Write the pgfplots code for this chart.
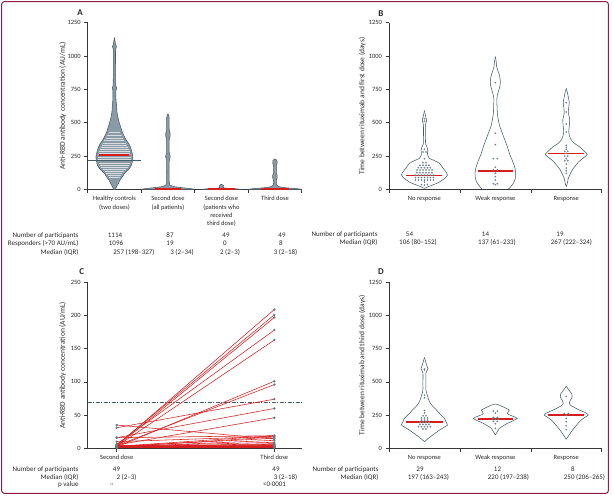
\documentclass[border=0pt]{standalone}
\usepackage{fontspec}
\setmainfont{Carlito}
\usepackage{pgfplots}
\pgfplotsset{compat=1.18}
\usepackage{pgfplotstable}

\definecolor{framecol}{RGB}{140,30,70}
\definecolor{axiscol}{RGB}{55,55,55}
\definecolor{textcol}{RGB}{40,40,40}
\definecolor{vline}{RGB}{70,92,104}
\definecolor{swarm}{RGB}{138,155,165}
\definecolor{medred}{RGB}{215,30,30}
\definecolor{dotcol}{RGB}{100,122,136}

\newcommand\tabfont{\fontsize{7}{8}\selectfont}

% ---------- filled violins (panel A): closed outline, offset xo (bp) and y ----------
\pgfplotstableread{
xo y
1 0
2 20
4 45
5.5 70
8 95
10 120
13.5 145
16.3 170
17.5 195
18 215
18.5 240
18 265
17 290
16 315
14.5 340
11.7 370
8.3 420
6.5 460
5 495
3.5 540
2.5 580
2.2 620
1.5 680
1.5 740
2.2 760
1.3 780
1.1 900
1.1 1050
2 1070
1 1090
0 1135
-1 1090
-2 1070
-1.1 1050
-1.1 900
-1.3 780
-2.2 760
-1.5 740
-1.5 680
-2.2 620
-2.5 580
-3.5 540
-5 495
-6.5 460
-8.3 420
-11.7 370
-14.5 340
-16 315
-17 290
-18 265
-18.5 240
-18 215
-17.5 195
-16.3 170
-13.5 145
-10 120
-8 95
-5.5 70
-4 45
-2 20
-1 0
}\fHealthy
\pgfplotstableread{
xo y
26 0
22 6
14 12
6 20
2.5 30
1.3 50
1.3 220
2.2 238
2.2 252
1.3 270
1.3 380
2.2 398
2.2 420
1.3 440
1.2 540
0 565
-1.2 540
-1.3 440
-2.2 420
-2.2 398
-1.3 380
-1.3 270
-2.2 252
-2.2 238
-1.3 220
-1.3 50
-2.5 30
-6 20
-14 12
-22 6
-26 0
}\fSecAll
\pgfplotstableread{
xo y
20 0
14 4
5 8
1.8 12
1.8 30
0 38
-1.8 30
-1.8 12
-5 8
-14 4
-20 0
}\fSecRec
\pgfplotstableread{
xo y
27 0
20 6
10 12
4 20
1.5 35
1.5 70
2.2 85
2.2 105
1.4 120
1.4 180
2.2 195
2 215
0 228
-2 215
-2.2 195
-1.4 180
-1.4 120
-2.2 105
-2.2 85
-1.5 70
-1.5 35
-4 20
-10 12
-20 6
-27 0
}\fThird
% rows of the healthy-control swarm: y and half-width w (bp)
\pgfplotstableread{
y w
90 5.5
106 6.8
121 8
134 9.6
151 11.8
164 13.2
181 14.6
197 15.3
228 16.2
244 16.4
271 15.8
286 15.2
302 14.6
318 13.8
334 12.4
349 11.4
366 10
386 8.5
404 7.3
431 5.8
}\tStripes

% ---------- open violins (panels B, D): y and half-width w (bp) ----------
\pgfplotstableread{
y w
7 0
20 4
32 8
50 14
70 18
90 21.5
107 23
125 22
145 20
170 17.5
195 15
215 10
232 5
250 3.5
268 3
290 3.4
318 2.5
340 1.2
380 1
480 1
505 1.8
522 2.2
538 1.5
555 1
590 0
}\tBno
\pgfplotstableread{
y w
0 13
20 15.5
45 18
70 19.5
100 20.3
145 20
185 18.5
220 16.7
270 14
320 12
370 9.5
420 7
470 4.5
520 3
570 2
620 1.7
683 1.5
720 2.5
745 3.5
775 4.6
807 5
840 4.5
870 3.5
900 2
920 1.3
960 0.8
995 0
}\tBweak
\pgfplotstableread{
y w
20 0
50 1.2
82 2
115 4
145 6
175 9
207 12.5
235 17
262 21
290 17.5
320 13
345 8
370 5
400 3.2
432 2.5
470 3
520 3.5
555 2.5
582 2
615 2.5
650 3
695 2
730 1
757 0
}\tBresp

\pgfplotstableread{
y w
50 0
70 3
87 6
110 10
137 15
160 20
175 23
200 21.5
225 20
255 16
288 12
315 8.5
338 6
360 4.5
388 3.3
420 2
438 1.5
500 1.5
563 1.5
585 2.5
601 3.5
620 2.5
645 1.5
684 0
}\tDno
\pgfplotstableread{
y w
100 0
125 2
150 4
170 8
188 12
205 17
225 22
240 18
255 13
263 12
275 13
288 14
300 11
313 7.5
325 4
333 0
}\tDweak
\pgfplotstableread{
y w
68 0
90 2
113 4
140 6.5
162 9
190 12
213 15
235 19
250 22
265 20
285 14
300 10
320 5
338 3
360 4
388 6
410 5.5
425 4
445 2
468 0
}\tDresp

% ---------- individual values: offset xo (bp) and y ----------
\pgfplotstableread{
xo y
-3 35
0 32
3 35
0 55
-9 70
-6 70
-3 70
0 70
3 70
6 70
9 70
-9 88
-6 88
-3 88
0 88
3 88
6 88
9 88
-9 106
-6 106
-3 106
0 106
3 106
6 106
9 106
-7.5 125
-4.5 125
-1.5 125
1.5 125
4.5 125
7.5 125
-7.5 145
-4.5 145
-1.5 145
1.5 145
4.5 145
7.5 145
-6 162
-3 162
0 162
3 162
6 162
-4.5 180
-1.5 180
1.5 180
4.5 180
-1.5 200
1.5 200
0 230
-1.5 280
1.5 280
0 300
0 510
0 530
}\dBno
\pgfplotstableread{
xo y
0 800
0 420
0 335
-2 230
2 230
0 165
-2 145
2 145
0 120
0 95
0 70
-2 42
2 42
0 35
}\dBweak
\pgfplotstableread{
xo y
0 650
0 580
0 490
0 430
0 330
0 315
0 300
-1.5 285
1.5 285
0 270
-1.5 250
1.5 250
0 230
-1.5 215
1.5 215
0 190
0 160
0 140
0 120
}\dBresp
\pgfplotstableread{
xo y
0 598
0 590
0 400
0 380
0 285
0 265
-1.5 245
1.5 245
-3 228
0 228
3 228
-3 212
0 212
3 212
-4.5 197
-1.5 197
1.5 197
4.5 197
-4.5 180
-1.5 180
1.5 180
4.5 180
-6 163
-3 163
0 163
3 163
6 163
-1.5 145
1.5 145
}\dDno
\pgfplotstableread{
xo y
-2 280
2 280
0 265
-2 232
2 232
-3 218
0 218
3 218
-2 202
2 202
0 185
0 150
}\dDweak
\pgfplotstableread{
xo y
0 390
-2 262
2 262
0 248
0 225
0 200
0 170
0 140
}\dDresp

\pgfplotsset{
  panel/.style={
    scale only axis,
    anchor=south west,
    axis lines=left,
    axis line style={-, draw=axiscol, line width=0.6bp},
    every outer x axis line/.append style={-},
    every outer y axis line/.append style={-},
    tick align=outside,
    major tick length=3.5bp,
    tick style={draw=axiscol, line width=0.6bp},
    ymin=0,
    clip=false,
    tick label style={font=\fontsize{6.5}{8.3}\selectfont, color=textcol},
    label style={font=\fontsize{7.5}{8.5}\selectfont, color=textcol},
    /pgf/number format/assume math mode=true,
    /pgf/number format/1000 sep={},
  },
  vio/.style={draw=vline, line width=0.55bp, mark=none, smooth, tension=0.35},
  vfill/.style={vio, fill=swarm},
  med/.style={draw=medred, line width=1.3bp, mark=none},
  dots/.style={only marks, mark=*, mark size=0.7bp, mark options={draw=dotcol, fill=dotcol!55, line width=0.3bp}},
  pair/.style={draw=medred, line width=0.55bp, mark=*, mark size=0.9bp, mark options={draw=dotcol, fill=dotcol}},
}

% outline of one open violin: #1 table, #2 centre, #3 bp per category
\newcommand\violinline[3]{%
  \addplot[vio] table[x expr={#2+\thisrow{w}/#3}, y=y]{#1};
  \addplot[vio] table[x expr={#2-\thisrow{w}/#3}, y=y]{#1};
}

\begin{document}
\begin{tikzpicture}[font=\tabfont, text=textcol]
\path[use as bounding box] (0bp,0bp) rectangle (614bp,499bp);
\draw[framecol, line width=1bp, rounded corners=2.5bp] (1.7bp,5.7bp) rectangle (608.3bp,497.3bp);

% ================= A =================
\begin{axis}[panel, at={(87.7bp,309.7bp)},
  width=214bp, height=166.6bp, xmin=-0.5, xmax=3.5, ymax=1250,
  ytick={0,250,...,1250},
  xtick={-0.5,0.5,1.5,2.5,3.5},
  xticklabels={{Healthy controls\\(two doses)},{Second dose\\(all patients)},{Second dose\\(patients who\\received\\third dose)},{Third dose},{}},
  xticklabel style={xshift=26.75bp, align=center},
  ylabel={Anti-RBD antibody concentration (AU/mL)},
  ylabel style={at={(axis description cs:-0.117,0.5)}, anchor=center}]
\addplot[vfill] table[x expr={0+\thisrow{xo}/53.5}, y=y]{\fHealthy};
\addplot[draw=white!65!swarm, line width=0.35bp,
  quiver={u=2*\thisrow{w}/53.5, v=0}]
  table[x expr={-\thisrow{w}/53.5}, y=y]{\tStripes};
\addplot[vfill] table[x expr={1+\thisrow{xo}/53.5}, y=y]{\fSecAll};
\addplot[vfill] table[x expr={2+\thisrow{xo}/53.5}, y=y]{\fSecRec};
\addplot[vfill] table[x expr={3+\thisrow{xo}/53.5}, y=y]{\fThird};
\addplot[draw=vline, line width=0.5bp] coordinates {(-0.5,215) (0.5,215)};
\addplot[med] coordinates {(-0.28,257) (0.28,257)};
\addplot[med] coordinates {(0.757,3) (1.243,3)};
\addplot[med] coordinates {(1.74,2) (2.26,2)};
\addplot[med] coordinates {(2.74,3) (3.26,3)};
\end{axis}

% ================= B =================
\begin{axis}[panel, at={(389bp,309.7bp)},
  width=212.7bp, height=166.6bp, xmin=-0.5, xmax=2.5, ymax=1250,
  ytick={0,250,...,1250},
  xtick={-0.5,0.5,1.5,2.5},
  xticklabels={No response, Weak response, Response, {}},
  xticklabel style={xshift=35.45bp},
  ylabel={Time between rituximab and first dose (days)},
  ylabel style={at={(axis description cs:-0.1255,0.5)}, anchor=center}]
\violinline{\tBno}{0}{70.9}
\violinline{\tBweak}{1}{70.9}
\violinline{\tBresp}{2}{70.9}
\addplot[dots] table[x expr={0+\thisrow{xo}/70.9}, y=y]{\dBno};
\addplot[dots] table[x expr={1+\thisrow{xo}/70.9}, y=y]{\dBweak};
\addplot[dots] table[x expr={2+\thisrow{xo}/70.9}, y=y]{\dBresp};
\addplot[med] coordinates {(-0.254,106) (0.254,106)};
\addplot[med] coordinates {(0.754,137) (1.246,137)};
\addplot[med] coordinates {(1.746,267) (2.254,267)};
\end{axis}

% ================= C =================
\begin{axis}[panel, at={(87.7bp,50.7bp)},
  width=214bp, height=166bp, xmin=-0.184, xmax=1.174, ymax=250,
  ytick={0,50,...,250},
  xtick={0,1}, xticklabels={Second dose, Third dose},
  ylabel={Anti-RBD antibody concentration (AU/mL)},
  ylabel style={at={(axis description cs:-0.117,0.5)}, anchor=center}]
\addplot[draw=vline, line width=0.6bp, dash pattern=on 4bp off 1.5bp on 1bp off 1.5bp]
  coordinates {(-0.184,70) (1.174,70)};
% second dose -> third dose, one line per patient
\addplot[pair] coordinates {(0,2) (1,3)};
\addplot[pair] coordinates {(0,3) (1,2)};
\addplot[pair] coordinates {(0,2) (1,2)};
\addplot[pair] coordinates {(0,1) (1,3)};
\addplot[pair] coordinates {(0,2) (1,4)};
\addplot[pair] coordinates {(0,3) (1,3)};
\addplot[pair] coordinates {(0,2) (1,2)};
\addplot[pair] coordinates {(0,4) (1,5)};
\addplot[pair] coordinates {(0,2) (1,1)};
\addplot[pair] coordinates {(0,3) (1,3)};
\addplot[pair] coordinates {(0,2) (1,2)};
\addplot[pair] coordinates {(0,1) (1,1)};
\addplot[pair] coordinates {(0,2) (1,3)};
\addplot[pair] coordinates {(0,3) (1,2)};
\addplot[pair] coordinates {(0,2) (1,2)};
\addplot[pair] coordinates {(0,2) (1,4)};
\addplot[pair] coordinates {(0,3) (1,3)};
\addplot[pair] coordinates {(0,2) (1,2)};
\addplot[pair] coordinates {(0,1) (1,2)};
\addplot[pair] coordinates {(0,2) (1,3)};
\addplot[pair] coordinates {(0,3) (1,2)};
\addplot[pair] coordinates {(0,2) (1,2)};
\addplot[pair] coordinates {(0,4) (1,3)};
\addplot[pair] coordinates {(0,2) (1,6)};
\addplot[pair] coordinates {(0,3) (1,2)};
\addplot[pair] coordinates {(0,2) (1,3)};
\addplot[pair] coordinates {(0,1) (1,2)};
\addplot[pair] coordinates {(0,2) (1,2)};
\addplot[pair] coordinates {(0,3) (1,3)};
\addplot[pair] coordinates {(0,35) (1,14)};
\addplot[pair] coordinates {(0,16) (1,19)};
\addplot[pair] coordinates {(0,10) (1,18)};
\addplot[pair] coordinates {(0,2) (1,17)};
\addplot[pair] coordinates {(0,3) (1,19)};
\addplot[pair] coordinates {(0,2) (1,12)};
\addplot[pair] coordinates {(0,3) (1,9)};
\addplot[pair] coordinates {(0,2) (1,7)};
\addplot[pair] coordinates {(0,3) (1,15)};
\addplot[pair] coordinates {(0,2) (1,5)};
\addplot[pair] coordinates {(0,4) (1,209)};
\addplot[pair] coordinates {(0,5) (1,201)};
\addplot[pair] coordinates {(0,3) (1,197)};
\addplot[pair] coordinates {(0,6) (1,178)};
\addplot[pair] coordinates {(0,3) (1,163)};
\addplot[pair] coordinates {(0,2) (1,101)};
\addplot[pair] coordinates {(0,4) (1,96)};
\addplot[pair] coordinates {(0,31) (1,74)};
\addplot[pair] coordinates {(0,16) (1,60)};
\addplot[pair] coordinates {(0,5) (1,46)};
\end{axis}

% ================= D =================
\begin{axis}[panel, at={(389bp,50.7bp)},
  width=212.7bp, height=166bp, xmin=-0.5, xmax=2.5, ymax=1250,
  ytick={0,250,...,1250},
  xtick={-0.5,0.5,1.5,2.5},
  xticklabels={No response, Weak response, Response, {}},
  xticklabel style={xshift=35.45bp},
  ylabel={Time between rituximab and third dose (days)},
  ylabel style={at={(axis description cs:-0.1255,0.5)}, anchor=center}]
\violinline{\tDno}{0}{70.9}
\violinline{\tDweak}{1}{70.9}
\violinline{\tDresp}{2}{70.9}
\addplot[dots] table[x expr={0+\thisrow{xo}/70.9}, y=y]{\dDno};
\addplot[dots] table[x expr={1+\thisrow{xo}/70.9}, y=y]{\dDweak};
\addplot[dots] table[x expr={2+\thisrow{xo}/70.9}, y=y]{\dDresp};
\addplot[med] coordinates {(-0.258,197) (0.258,197)};
\addplot[med] coordinates {(0.754,220) (1.246,220)};
\addplot[med] coordinates {(1.746,250) (2.254,250)};
\end{axis}

% ---------- panel letters ----------
\begin{scope}[font=\fontsize{9}{10}\bfseries]
\node at (80bp,486.3bp) {A};
\node at (381bp,485.7bp) {B};
\node at (81.7bp,227.3bp) {C};
\node at (381bp,227.3bp) {D};
\end{scope}

% ---------- tables under panels ----------
\node[anchor=mid east] at (82bp,264.3bp) {Number of participants};
\node[anchor=mid east] at (82bp,255.7bp) {Responders (>70 AU/mL)};
\node[anchor=mid east] at (82bp,246.7bp) {Median (IQR)};
\node[anchor=mid] at (115bp,264.3bp) {1114};
\node[anchor=mid] at (170bp,264.3bp) {87};
\node[anchor=mid] at (226bp,264.3bp) {49};
\node[anchor=mid] at (282bp,264.3bp) {49};
\node[anchor=mid] at (116bp,255.7bp) {1096};
\node[anchor=mid] at (170bp,255.7bp) {19};
\node[anchor=mid] at (225bp,255.7bp) {0};
\node[anchor=mid] at (281bp,255.7bp) {8};
\node[anchor=mid] at (134bp,246.7bp) {257 (198–327)};
\node[anchor=mid] at (182bp,246.7bp) {3 (2–34)};
\node[anchor=mid] at (230bp,246.7bp) {2 (2–3)};
\node[anchor=mid] at (285.5bp,246.7bp) {3 (2–18)};

\node[anchor=mid east] at (381bp,264.7bp) {Number of participants};
\node[anchor=mid east] at (381bp,257.3bp) {Median (IQR)};
\node[anchor=mid] at (409.5bp,264.7bp) {54};
\node[anchor=mid] at (485.5bp,264.7bp) {14};
\node[anchor=mid] at (560bp,264.7bp) {19};
\node[anchor=mid] at (418bp,257.3bp) {106 (80–152)};
\node[anchor=mid] at (497bp,257.3bp) {137 (61–233)};
\node[anchor=mid] at (571.5bp,257.3bp) {267 (222–324)};

\node[anchor=mid east] at (82bp,30bp) {Number of participants};
\node[anchor=mid east] at (82bp,21.5bp) {Median (IQR)};
\node[anchor=mid east] at (82bp,14.5bp) {p value};
\node[anchor=mid] at (116.5bp,30bp) {49};
\node[anchor=mid] at (126.5bp,21.5bp) {2 (2–3)};
\node[anchor=mid] at (112bp,14.5bp) {··};
\node[anchor=mid] at (276bp,30bp) {49};
\node[anchor=mid] at (285.5bp,21.5bp) {3 (2–18)};
\node[anchor=mid] at (274.5bp,14.5bp) {<0·0001};

\node[anchor=mid east] at (382bp,30bp) {Number of participants};
\node[anchor=mid east] at (382bp,22bp) {Median (IQR)};
\node[anchor=mid] at (420bp,30bp) {29};
\node[anchor=mid] at (497.5bp,30bp) {12};
\node[anchor=mid] at (573bp,30bp) {8};
\node[anchor=mid] at (428.5bp,22bp) {197 (163–243)};
\node[anchor=mid] at (508.5bp,22bp) {220 (197–238)};
\node[anchor=mid] at (584.5bp,22bp) {250 (206–265)};
\end{tikzpicture}
\end{document}
